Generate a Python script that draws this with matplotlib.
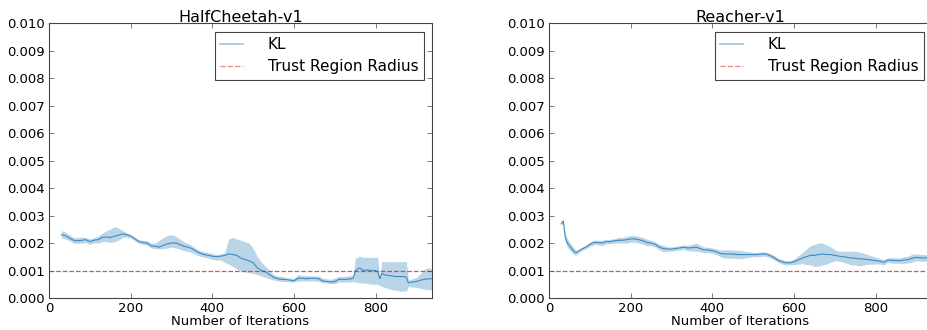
import numpy as np
import matplotlib
matplotlib.use("Agg")
import matplotlib.pyplot as plt
from matplotlib.lines import Line2D

# KL values in units of 1e-3
cheetah_x = [30, 40, 50, 60, 70, 80, 90, 100, 110, 120, 130, 140, 150, 160, 170, 180, 190, 200,
             210, 220, 230, 240, 250, 260, 270, 280, 290, 300, 310, 320, 330, 340, 350, 360, 370,
             380, 390, 400, 410, 420, 430, 440, 450, 460, 470, 480, 490, 500, 510, 520, 530, 540,
             550, 560, 570, 580, 590, 600, 610, 620, 630, 640, 650, 660, 670, 680, 690, 700, 710,
             720, 730, 740, 745, 750, 760, 770, 780, 790, 800, 805, 810, 815, 820, 830, 840, 850,
             860, 870, 875, 880, 890, 900, 910, 920, 930, 938]
cheetah_mean = [2.30, 2.27, 2.18, 2.10, 2.08, 2.10, 2.12, 2.05, 2.10, 2.12, 2.20, 2.22, 2.20, 2.25,
                2.28, 2.33, 2.30, 2.25, 2.15, 2.05, 2.02, 2.00, 1.90, 1.88, 1.85, 1.92, 1.97, 2.00,
                2.00, 1.95, 1.88, 1.85, 1.80, 1.70, 1.63, 1.58, 1.55, 1.52, 1.50, 1.52, 1.55, 1.60,
                1.58, 1.55, 1.45, 1.40, 1.35, 1.28, 1.10, 1.00, 0.95, 0.85, 0.75, 0.70, 0.68, 0.67,
                0.65, 0.63, 0.72, 0.72, 0.70, 0.72, 0.72, 0.70, 0.62, 0.60, 0.58, 0.60, 0.68, 0.68,
                0.68, 0.70, 0.72, 0.98, 1.10, 1.00, 1.02, 1.00, 1.00, 0.95, 0.70, 0.90, 0.85, 0.82,
                0.80, 0.78, 0.78, 0.78, 0.76, 0.55, 0.58, 0.60, 0.65, 0.68, 0.70, 0.70]
cheetah_hi = [2.45, 2.40, 2.30, 2.20, 2.20, 2.22, 2.20, 2.15, 2.20, 2.25, 2.35, 2.45, 2.50, 2.60,
              2.55, 2.45, 2.38, 2.32, 2.22, 2.12, 2.10, 2.08, 2.00, 2.00, 2.10, 2.20, 2.28, 2.30,
              2.25, 2.15, 2.05, 1.98, 1.90, 1.80, 1.72, 1.68, 1.65, 1.62, 1.58, 1.60, 1.65, 2.15,
              2.20, 2.15, 2.10, 2.05, 2.00, 1.80, 1.50, 1.30, 1.15, 1.00, 0.85, 0.80, 0.78, 0.75,
              0.72, 0.72, 0.85, 0.82, 0.82, 0.80, 0.80, 0.80, 0.72, 0.70, 0.68, 0.72, 0.78, 0.78,
              0.80, 0.82, 0.85, 1.45, 1.52, 1.48, 1.48, 1.48, 1.48, 1.48, 0.75, 1.35, 1.32, 1.32,
              1.32, 1.32, 1.32, 1.32, 1.32, 0.65, 0.70, 0.75, 0.90, 1.05, 1.10, 1.05]
cheetah_lo = [2.18, 2.15, 2.08, 2.00, 1.98, 2.00, 2.02, 1.95, 2.00, 2.00, 2.05, 2.05, 2.02, 2.05,
              2.10, 2.20, 2.22, 2.18, 2.08, 1.98, 1.95, 1.92, 1.82, 1.80, 1.78, 1.80, 1.82, 1.85,
              1.82, 1.78, 1.72, 1.70, 1.65, 1.58, 1.52, 1.48, 1.45, 1.40, 1.38, 1.38, 1.30, 1.22,
              1.15, 1.05, 0.98, 0.95, 0.92, 0.90, 0.85, 0.80, 0.75, 0.70, 0.65, 0.62, 0.60, 0.60,
              0.58, 0.58, 0.62, 0.62, 0.62, 0.62, 0.62, 0.60, 0.55, 0.55, 0.52, 0.52, 0.58, 0.58,
              0.58, 0.58, 0.60, 0.58, 0.55, 0.55, 0.52, 0.50, 0.50, 0.50, 0.45, 0.42, 0.38, 0.35,
              0.30, 0.28, 0.25, 0.25, 0.25, 0.42, 0.40, 0.38, 0.35, 0.32, 0.30, 0.30]

reacher_x = [30, 35, 40, 45, 50, 60, 65, 70, 80, 90, 100, 110, 120, 130, 140, 150, 160, 170, 180,
             190, 200, 210, 220, 230, 240, 250, 260, 270, 280, 290, 300, 310, 320, 330, 340, 350,
             360, 370, 380, 390, 400, 410, 420, 430, 440, 450, 460, 470, 480, 490, 500, 510, 520,
             530, 540, 550, 560, 570, 580, 590, 600, 610, 620, 630, 640, 650, 660, 670, 680, 690,
             700, 710, 720, 730, 740, 750, 760, 770, 780, 790, 800, 810, 820, 830, 840, 850, 860,
             870, 880, 890, 900, 910, 920, 930]
reacher_mean = [2.70, 2.80, 2.20, 2.00, 1.90, 1.72, 1.65, 1.68, 1.78, 1.85, 1.95, 2.02, 2.02, 2.00,
                2.05, 2.05, 2.08, 2.10, 2.10, 2.12, 2.15, 2.15, 2.12, 2.08, 2.02, 2.00, 1.95, 1.85,
                1.80, 1.78, 1.78, 1.80, 1.82, 1.85, 1.82, 1.83, 1.85, 1.80, 1.75, 1.75, 1.72, 1.68,
                1.62, 1.60, 1.60, 1.60, 1.58, 1.58, 1.58, 1.58, 1.58, 1.58, 1.60, 1.60, 1.55, 1.48,
                1.38, 1.32, 1.28, 1.28, 1.32, 1.38, 1.45, 1.50, 1.55, 1.55, 1.58, 1.60, 1.58, 1.58,
                1.55, 1.52, 1.50, 1.48, 1.45, 1.45, 1.42, 1.42, 1.40, 1.38, 1.36, 1.34, 1.30, 1.38,
                1.37, 1.36, 1.36, 1.38, 1.40, 1.45, 1.48, 1.46, 1.46, 1.46]
reacher_std = [0.05, 0.08, 0.15, 0.15, 0.15, 0.12, 0.10, 0.06, 0.06, 0.06, 0.08, 0.08, 0.08, 0.10,
               0.08, 0.08, 0.08, 0.10, 0.10, 0.12, 0.12, 0.12, 0.12, 0.12, 0.12, 0.10, 0.10, 0.10,
               0.12, 0.08, 0.08, 0.08, 0.08, 0.08, 0.10, 0.12, 0.15, 0.12, 0.10, 0.10, 0.10, 0.10,
               0.12, 0.15, 0.15, 0.15, 0.15, 0.15, 0.12, 0.10, 0.08, 0.08, 0.08, 0.08, 0.08, 0.08,
               0.08, 0.08, 0.08, 0.08, 0.10, 0.15, 0.20, 0.28, 0.35, 0.40, 0.42, 0.40, 0.35, 0.28,
               0.20, 0.18, 0.20, 0.22, 0.25, 0.25, 0.25, 0.22, 0.18, 0.15, 0.12, 0.10, 0.10, 0.08,
               0.10, 0.10, 0.10, 0.12, 0.12, 0.15, 0.12, 0.12, 0.12, 0.12]

trust_radius = 0.001
x_max = 938

plt.rcParams["font.family"] = "DejaVu Sans"

fig = plt.figure(figsize=(9.27, 3.30), dpi=100)
ax1 = fig.add_axes([0.0529, 0.097, 0.4132, 0.833])
ax2 = fig.add_axes([0.5922, 0.097, 0.4132, 0.833])

blue = "#1f77b4"
red = "#d62728"

panels = [
    (ax1, "HalfCheetah-v1", cheetah_x, cheetah_mean, cheetah_lo, cheetah_hi),
    (ax2, "Reacher-v1", reacher_x, reacher_mean,
     list(np.array(reacher_mean) - np.array(reacher_std)),
     list(np.array(reacher_mean) + np.array(reacher_std))),
]

for ax, title, x, mean, lo, hi in panels:
    x = np.array(x)
    ax.fill_between(x, np.array(lo) * 1e-3, np.array(hi) * 1e-3,
                    color=blue, alpha=0.3, lw=0)
    ax.plot(x, np.array(mean) * 1e-3, color=blue, alpha=0.8, lw=0.8)
    ax.axhline(trust_radius, color=red, ls="--", lw=0.9, alpha=0.8)
    ax.set_xlim(0, x_max)
    ax.set_ylim(0, 0.010)
    ax.set_xticks([0, 200, 400, 600, 800])
    ax.set_yticks(np.arange(0, 0.0101, 0.001))
    ax.yaxis.set_major_formatter(matplotlib.ticker.FormatStrFormatter("%.3f"))
    ax.tick_params(direction="in", top=True, right=True, length=3.5,
                   labelsize=9.5, width=0.6, color="#666666", pad=3)
    for s in ax.spines.values():
        s.set_color("#444444")
        s.set_linewidth(0.8)
    ax.set_title(title, fontsize=11.5, pad=1)
    ax.set_xlabel("Number of Iterations", fontsize=9.5, labelpad=0)
    handles = [Line2D([], [], color=blue, alpha=0.4, lw=1.3),
               Line2D([], [], color=red, ls="--", alpha=0.5, lw=1.0)]
    leg = ax.legend(handles, ["KL", "Trust Region Radius"], loc="upper right",
                    fontsize=11, fancybox=False, framealpha=1,
                    borderaxespad=0.55, handlelength=1.5, handletextpad=1.6,
                    labelspacing=0.5, borderpad=0.35)
    leg.get_frame().set_edgecolor("#444444")
    leg.get_frame().set_linewidth(0.8)

fig.savefig("out.png", dpi=100, facecolor="white")
